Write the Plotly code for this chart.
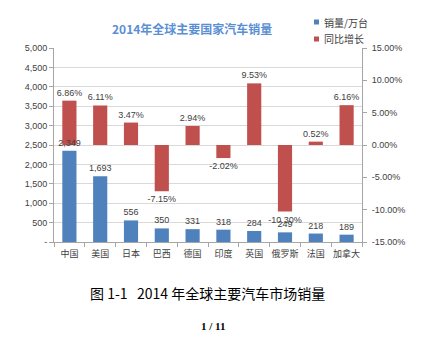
import plotly.graph_objects as go

countries = ["中国", "美国", "日本", "巴西", "德国", "印度", "英国", "俄罗斯", "法国", "加拿大"]
sales = [2349, 1693, 556, 350, 331, 318, 284, 249, 218, 189]
growth = [6.86, 6.11, 3.47, -7.15, 2.94, -2.02, 9.53, -10.30, 0.52, 6.16]
left_ticks = [0, 500, 1000, 1500, 2000, 2500, 3000, 3500, 4000, 4500, 5000]
left_labels = ["-", "500", "1,000", "1,500", "2,000", "2,500", "3,000", "3,500", "4,000", "4,500", "5,000"]
right_ticks = [-15, -10, -5, 0, 5, 10, 15]
right_labels = ["-15.00%", "-10.00%", "-5.00%", "0.00%", "5.00%", "10.00%", "15.00%"]
series_names = ["销量/万台", "同比增长"]

FONT = "Liberation Sans, Noto Sans CJK SC, sans-serif"
CJK = "Noto Sans CJK SC, sans-serif"
blue = "#4F81BD"
red = "#C0504D"
colors = [blue, red]

# gridlines aligned with the left (sales) ticks, expressed on the growth axis
grid_vals = [-15 + 30 * t / 5000 for t in left_ticks]

fig = go.Figure()
fig.add_trace(go.Bar(
    x=countries, y=growth, name=series_names[1], marker=dict(color=red, line=dict(width=0)),
    width=0.46, text=[f"{v:.2f}%" for v in growth], textposition="outside", constraintext="none",
    textfont=dict(size=9, color="#404040", family=FONT), cliponaxis=False, yaxis="y",
    showlegend=False))
fig.add_trace(go.Bar(
    x=countries, y=sales, name=series_names[0], marker=dict(color=blue, line=dict(width=0)),
    width=0.46, text=[f"{v:,}" for v in sales], textposition="outside", constraintext="none",
    textfont=dict(size=9, color="#404040", family=FONT), cliponaxis=False, yaxis="y2",
    showlegend=False))

# legend drawn as small squares + labels (Excel-style)
H = 194.0
W = 308.0
shapes = []
annotations = []
for i, (nm, c) in enumerate(zip(series_names, colors)):
    ypx = 22 + i * 17  # pixel from top
    yp = (242 - ypx) / H
    x0 = (314 - 54) / W
    x1 = (319 - 54) / W
    shapes.append(dict(type="rect", xref="paper", yref="paper", x0=x0, x1=x1,
                       y0=yp - 2.5 / H, y1=yp + 2.5 / H, fillcolor=c, line=dict(width=0)))
    annotations.append(dict(text=nm, xref="paper", yref="paper", x=(322 - 54) / W, y=yp,
                            xanchor="left", yanchor="middle", showarrow=False,
                            font=dict(family=CJK, size=10, color="#404040")))

annotations += [
    dict(text="图 1-1   2014 年全球主要汽车市场销量", xref="paper", yref="paper",
         x=0.497, y=-0.263, xanchor="center", yanchor="middle", showarrow=False,
         font=dict(family=CJK, size=14, color="#000000")),
    dict(text="<b>1 / 11</b>", xref="paper", yref="paper",
         x=0.515, y=-0.433, xanchor="center", yanchor="middle", showarrow=False,
         font=dict(family="Liberation Serif, serif", size=11, color="#000000")),
]

fig.update_layout(
    width=427, height=343, barmode="overlay", showlegend=False,
    margin=dict(l=54, r=65, t=48, b=101),
    paper_bgcolor="white", plot_bgcolor="white",
    font=dict(family=FONT, size=9, color="#404040"),
    title=dict(text="<b>2014年全球主要国家汽车销量</b>", x=0.45, xanchor="center",
               y=1 - 30 / 343, yanchor="middle", yref="container",
               font=dict(family=CJK, size=12, color="#5B8FD4")),
    xaxis=dict(type="category", showline=True, linecolor="#A6A6A6", linewidth=1,
               ticks="outside", tickson="boundaries", ticklen=4, tickcolor="#A6A6A6",
               tickangle=0, ticklabelstandoff=3,
               tickfont=dict(family=CJK, size=9, color="#404040"), showgrid=False),
    yaxis=dict(range=[-15, 15], tickvals=right_ticks, ticktext=right_labels,
               side="right", showline=True, linecolor="#A6A6A6",
               ticks="outside", ticklen=4, tickcolor="#A6A6A6", showgrid=False,
               minor=dict(tickvals=grid_vals, showgrid=True, gridcolor="#D9D9D9", ticks=""),
               ticklabelstandoff=3, zeroline=False, tickfont=dict(size=9, color="#404040")),
    yaxis2=dict(range=[0, 5000], tickvals=left_ticks, ticktext=left_labels,
                overlaying="y", side="left", showline=True, linecolor="#A6A6A6",
                ticks="outside", ticklen=4, tickcolor="#A6A6A6", showgrid=False,
                zeroline=False, tickfont=dict(size=9, color="#404040")),
    shapes=shapes,
    annotations=annotations,
)

fig.write_html("out.html")
